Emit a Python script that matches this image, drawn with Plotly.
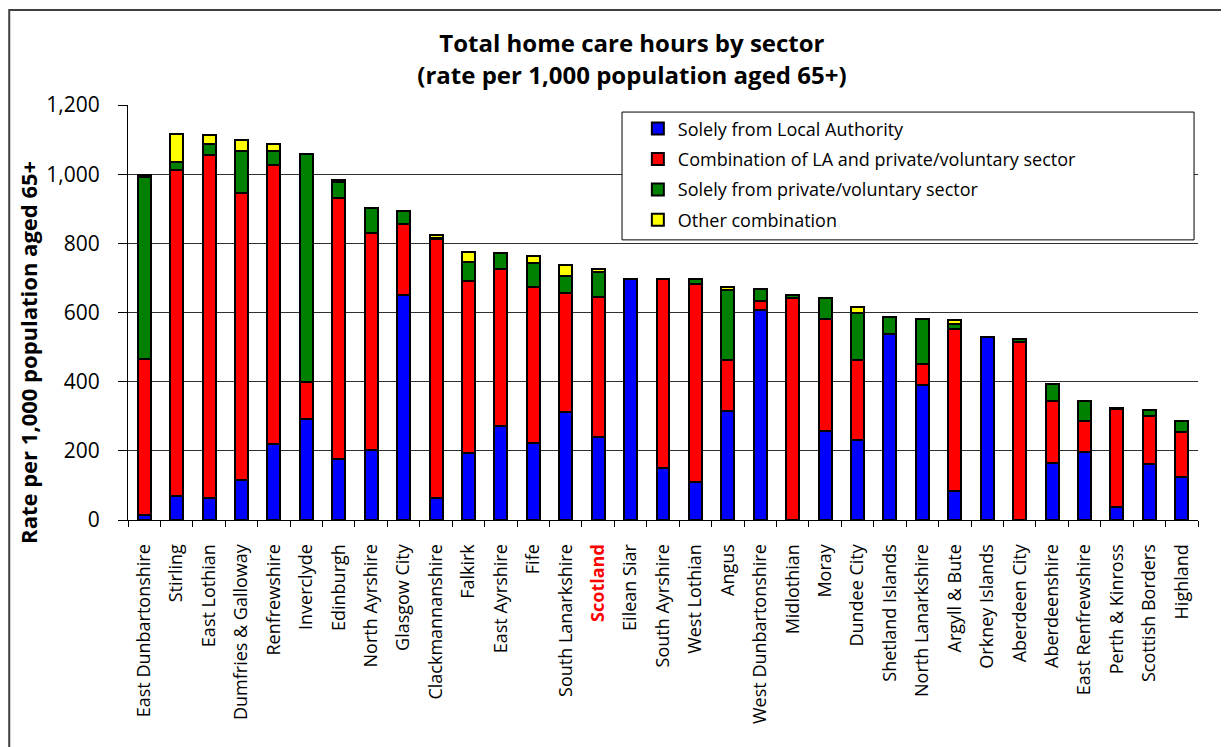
import plotly.graph_objects as go

# Councils, ordered by total rate
categories = [
    "East Dunbartonshire", "Stirling", "East Lothian", "Dumfries & Galloway",
    "Renfrewshire", "Inverclyde", "Edinburgh", "North Ayrshire", "Glasgow City",
    "Clackmannanshire", "Falkirk", "East Ayrshire", "Fife", "South Lanarkshire",
    "Scotland", "Eilean Siar", "South Ayrshire", "West Lothian", "Angus",
    "West Dunbartonshire", "Midlothian", "Moray", "Dundee City",
    "Shetland Islands", "North Lanarkshire", "Argyll & Bute", "Orkney Islands",
    "Aberdeen City", "Aberdeenshire", "East Renfrewshire", "Perth & Kinross",
    "Scottish Borders", "Highland",
]

# rate per 1,000 population aged 65+
solely_la = [15, 68, 65, 116, 220, 292, 177, 203, 650, 65, 195, 273, 222, 311,
             240, 696, 150, 109, 314, 607, 0, 258, 232, 539, 389, 84, 530, 0,
             166, 198, 39, 162, 124]
combination = [450, 945, 989, 829, 807, 106, 754, 626, 206, 747, 495, 454, 452,
               344, 405, 0, 546, 572, 148, 27, 643, 322, 230, 0, 61, 469, 0,
               514, 177, 89, 282, 138, 130]
solely_private = [527, 23, 33, 121, 41, 661, 45, 73, 38, 4, 56, 44, 68, 51, 73,
                  0, 0, 15, 202, 33, 7, 63, 137, 49, 130, 15, 0, 8, 50, 56, 4,
                  17, 33]
other = [5, 80, 27, 33, 20, 0, 8, 0, 0, 8, 29, 0, 20, 32, 9, 0, 0, 0, 10, 0, 2,
         0, 18, 0, 0, 9, 0, 2, 0, 0, 0, 0, 0]

y_ticks = [0, 200, 400, 600, 800, 1000, 1200]

series = [
    ("Solely from Local Authority", solely_la, "#0000FF"),
    ("Combination of LA and private/voluntary sector", combination, "#FF0000"),
    ("Solely from private/voluntary sector", solely_private, "#008000"),
    ("Other combination", other, "#FFFF00"),
]

tick_text = [
    "<b><span style='color:#FF0000'>%s</span></b>" % c if c == "Scotland" else c
    for c in categories
]

FONT = "Open Sans"

fig = go.Figure()
for name, vals, col in series:
    fig.add_trace(
        go.Bar(
            x=categories,
            y=vals,
            name=name,
            legendgroup=name,
            marker=dict(color=col, line=dict(color="black", width=2)),
        )
    )

# page body adds 8px offset, so the figure is 8px smaller with 8px less margin
fig.update_layout(
    barmode="stack",
    bargap=0.6,
    width=1221,
    height=739,
    margin=dict(l=120, r=31, t=97, b=227),
    paper_bgcolor="white",
    plot_bgcolor="white",
    font=dict(family=FONT, color="black"),
    title=dict(
        text="<b>Total home care hours by sector<br>(rate per 1,000 population aged 65+)</b>",
        x=0.511,
        xref="container",
        xanchor="center",
        y=0.94,
        yref="container",
        yanchor="middle",
        font=dict(family=FONT, size=24, color="black"),
    ),
    showlegend=True,
    legend=dict(
        x=0.4765,
        y=0.987,
        xanchor="left",
        yanchor="top",
        bgcolor="rgba(0,0,0,0)",
        borderwidth=0,
        font=dict(family=FONT, size=18, color="black"),
        traceorder="grouped",
        tracegroupgap=4,
    ),
    xaxis=dict(
        type="category",
        tickmode="array",
        tickvals=categories,
        ticktext=tick_text,
        tickangle=-90,
        tickfont=dict(family=FONT, size=18, color="black"),
        showline=True,
        linecolor="black",
        linewidth=1,
        ticks="outside",
        tickson="boundaries",
        ticklen=6,
        tickcolor="black",
        showgrid=False,
        ticklabelstandoff=16,
    ),
    yaxis=dict(
        range=[0, 1200],
        tickmode="array",
        tickvals=y_ticks,
        tickformat=",",
        tickfont=dict(family=FONT, size=21, color="black"),
        showline=True,
        linecolor="black",
        linewidth=1,
        ticks="outside",
        ticklen=9,
        tickcolor="black",
        showgrid=True,
        gridcolor="#303030",
        gridwidth=1,
        zeroline=False,
        ticklabelstandoff=14,
    ),
    shapes=[
        # legend box
        dict(
            type="rect", xref="paper", yref="paper",
            x0=0.4617, x1=0.9963, y0=0.675, y1=0.983,
            fillcolor="white", line=dict(color="black", width=1), layer="above",
        ),
        # outer chart border
        dict(
            type="rect", xref="paper", yref="paper",
            x0=-0.111, x1=1.04, y0=-0.56, y1=1.229,
            fillcolor="rgba(0,0,0,0)", line=dict(color="#404040", width=2),
            layer="above",
        ),
    ],
    annotations=[
        dict(
            text="<b>Rate per 1,000 population aged 65+</b>",
            textangle=-90,
            xref="paper", yref="paper",
            x=-0.0935, y=0.405,
            xanchor="center", yanchor="middle",
            showarrow=False,
            font=dict(family=FONT, size=22, color="black"),
        )
    ],
)

fig.write_html("out.html")
